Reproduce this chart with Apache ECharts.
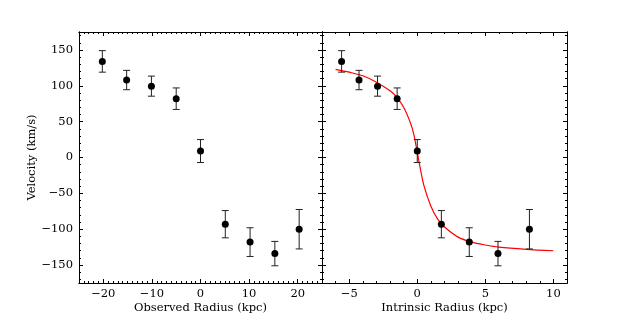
<!DOCTYPE html>
<html>
<head>
<meta charset="utf-8">
<script src="https://cdn.jsdelivr.net/npm/echarts@6/dist/echarts.min.js"></script>
<style>html,body{margin:0;padding:0;background:#fff;}#c{width:630px;height:315px;}</style>
</head>
<body>
<div id="c"></div>
<script>
// ---- data ----
var observedRadius = [-20.2, -15.2, -10.1, -5.0, 0.0, 5.1, 10.2, 15.3, 20.3];
var intrinsicRadius = [-5.56, -4.28, -2.92, -1.48, 0.0, 1.77, 3.82, 5.93, 8.24];
var velocity = [134, 108, 99.5, 82, 9, -93, -118, -134, -100];
var velocityErr = [15, 13.5, 14, 15, 16, 19, 20, 17, 27.5];
var fitX = [-6, -5, -4, -3, -2, -1.5, -1, -0.5, -0.25, 0, 0.25, 0.5, 1, 1.5, 2, 3, 4, 5, 6, 8, 10];
var fitY = [123, 119, 114, 105, 93, 84, 70, 48, 32, 7, -18, -40, -68, -86, -97, -111, -118, -122, -125, -128, -130];
var obsTicks = [-20, -10, 0, 10, 20];
var intTicks = [-5, 0, 5, 10];
var velTicks = [-150, -100, -50, 0, 50, 100, 150];

var FONT = 'DejaVu Serif';
var FS = 11.5;
function fmt(v){ return v < 0 ? '\u2212' + Math.abs(v) : String(v); }
function steps(a, b, s){ var r=[]; for (var v=a; v<=b+1e-9; v+=s) r.push(Math.round(v*1000)/1000); return r; }

var xRanges = [[-25, 25], [-7, 11]];
var yRange = [-175, 175];
var xMajor = [obsTicks, intTicks];

var grids = [];
var xAxes = [];
var yAxes = [];
var gridBoxes = [{left: 79, top: 32, width: 243, height: 251}, {left: 322, top: 32, width: 245, height: 251}];

// major grids 0,1 ; minor grids 2,3
for (var layer = 0; layer < 2; layer++) {
  for (var p = 0; p < 2; p++) {
    var gi = layer * 2 + p;
    grids.push(Object.assign({containLabel: false, outerBoundsMode: 'none'}, gridBoxes[p]));
    var isMajor = layer === 0;
    var xt = isMajor ? xMajor[p] : steps(Math.ceil(xRanges[p][0]), Math.floor(xRanges[p][1]), 1);
    var yt = isMajor ? velTicks : steps(-170, 170, 10);
    var tlen = isMajor ? 4 : 2;
    ['bottom', 'top'].forEach(function(pos){
      var showLab = isMajor && pos === 'bottom';
      xAxes.push({
        type: 'value', gridIndex: gi, position: pos,
        min: xRanges[p][0], max: xRanges[p][1],
        name: showLab ? (p === 0 ? 'Observed Radius (kpc)' : 'Intrinsic Radius (kpc)') : '',
        nameLocation: 'middle', nameGap: 19, nameMoveOverlap: false,
        nameTextStyle: {fontFamily: FONT, fontSize: FS, color: '#000'},
        axisLine: {show: true, onZero: false, lineStyle: {color: '#000', width: 1}},
        axisTick: {show: true, inside: true, length: tlen, customValues: xt, lineStyle: {color: '#000', width: 1}},
        axisLabel: {show: showLab, customValues: isMajor ? xt : [], formatter: fmt, fontFamily: FONT, fontSize: FS, color: '#000', margin: 5},
        splitLine: {show: false}
      });
    });
    ['left', 'right'].forEach(function(pos){
      var showLab = isMajor && pos === 'left' && p === 0;
      yAxes.push({
        type: 'value', gridIndex: gi, position: pos,
        min: yRange[0], max: yRange[1],
        name: showLab ? 'Velocity (km/s)' : '',
        nameLocation: 'middle', nameGap: 41, nameMoveOverlap: false,
        nameTextStyle: {fontFamily: FONT, fontSize: FS, color: '#000'},
        axisLine: {show: true, onZero: false, lineStyle: {color: '#000', width: 1}},
        axisTick: {show: true, inside: true, length: tlen, customValues: yt, lineStyle: {color: '#000', width: 1}},
        axisLabel: {show: showLab, customValues: isMajor ? yt : [], formatter: fmt, fontFamily: FONT, fontSize: FS, color: '#000', margin: 6},
        splitLine: {show: false}
      });
    });
  }
}

function errData(xs){ return xs.map(function(x, i){ return [x, velocity[i], velocityErr[i]]; }); }
function renderErr(params, api){
  var x = api.value(0), y = api.value(1), e = api.value(2);
  var lo = api.coord([x, y - e]), hi = api.coord([x, y + e]);
  var cap = 3.5;
  var st = {stroke: '#222', lineWidth: 1};
  return {type: 'group', children: [
    {type: 'line', shape: {x1: lo[0], y1: lo[1], x2: hi[0], y2: hi[1]}, style: st},
    {type: 'line', shape: {x1: lo[0]-cap, y1: lo[1], x2: lo[0]+cap, y2: lo[1]}, style: st},
    {type: 'line', shape: {x1: hi[0]-cap, y1: hi[1], x2: hi[0]+cap, y2: hi[1]}, style: st}
  ]};
}

var series = [
  // error bars live on the minor-tick grids (same rect and extent as the major grids)
  {type: 'custom', xAxisIndex: 4, yAxisIndex: 4, renderItem: renderErr, data: errData(observedRadius), z: 2, silent: true},
  {type: 'scatter', xAxisIndex: 0, yAxisIndex: 0, symbolSize: 7, itemStyle: {color: '#000', opacity: 1},
   data: observedRadius.map(function(x, i){ return [x, velocity[i]]; }), z: 3},
  {type: 'line', xAxisIndex: 2, yAxisIndex: 2, smooth: 0.3, symbol: 'none', lineStyle: {color: '#ff0000', width: 1.2},
   data: fitX.map(function(x, i){ return [x, fitY[i]]; }), z: 1},
  {type: 'custom', xAxisIndex: 6, yAxisIndex: 6, renderItem: renderErr, data: errData(intrinsicRadius), z: 2, silent: true},
  {type: 'scatter', xAxisIndex: 2, yAxisIndex: 2, symbolSize: 7, itemStyle: {color: '#000', opacity: 1},
   data: intrinsicRadius.map(function(x, i){ return [x, velocity[i]]; }), z: 3}
];

var chart = echarts.init(document.getElementById('c'), null, {renderer: 'canvas'});
chart.setOption({
  animation: false,
  backgroundColor: '#fff',
  grid: grids,
  xAxis: xAxes,
  yAxis: yAxes,
  series: series
});
</script>
</body>
</html>
